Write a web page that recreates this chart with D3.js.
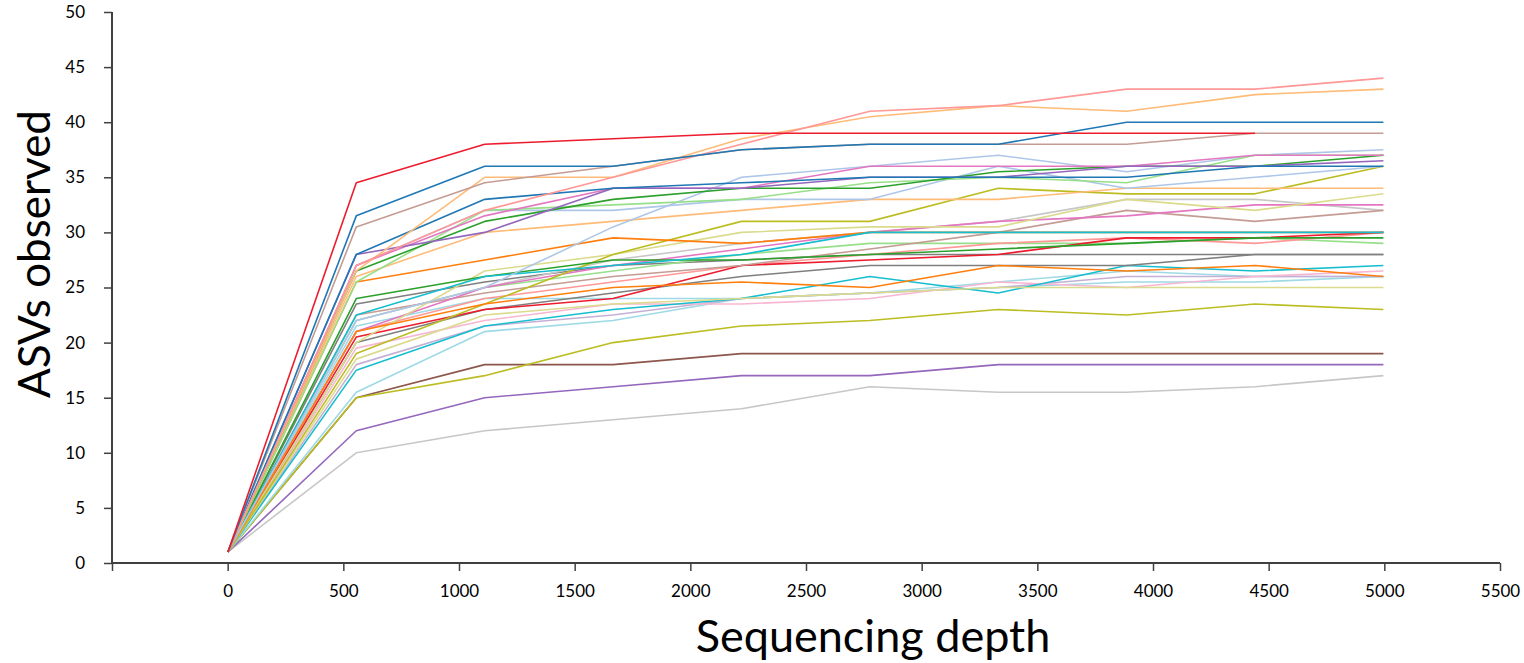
<!DOCTYPE html>
<html>
<head>
<meta charset="utf-8">
<script src="https://cdn.jsdelivr.net/npm/d3@7"></script>
<style>
  html, body { margin: 0; padding: 0; background: #ffffff; }
  svg { display: block; }
  text { font-family: Lato, "Open Sans", sans-serif; fill: #000; }
</style>
</head>
<body>
<svg id="chart" width="1524" height="663"></svg>
<script>
// ---------- DATA ----------
const depths = [1, 556, 1111, 1666, 2221, 2776, 3331, 3886, 4441, 4996];
const xTickValues = [-500, 0, 500, 1000, 1500, 2000, 2500, 3000, 3500, 4000, 4500, 5000, 5500];
const yTickValues = [0, 5, 10, 15, 20, 25, 30, 35, 40, 45, 50];
const xTitle = "Sequencing depth";
const yTitle = "ASVs observed";

const redA        = [1, 34.5, 38, 38.5, 39, 39, 39, 39, 39];
const blueA       = [1, 31.5, 36, 36, 37.5, 38, 38, 40, 40, 40];
const rosyA       = [1, 30.5, 34.5, 36, 37.5, 38, 38, 38, 39, 39];
const salmonA     = [1, 27, 32, 35, 38, 41, 41.5, 43, 43, 44];
const lorangeA    = [1, 26.5, 35, 35, 38.5, 40.5, 41.5, 41, 42.5, 43];
const blueB       = [1, 28, 33, 34, 34.5, 35, 35, 35, 36, 36];
const purpleA     = [1, 28, 30, 34, 34, 35, 35, 36, 36, 36.5];
const pinkA       = [1, 27, 31.5, 34, 34, 36, 36, 36, 37, 37];
const greenA      = [1, 26.5, 31, 33, 34, 34, 35.5, 36, 36, 37];
const lgreenA     = [1, 25.5, 32, 32.5, 33, 34.5, 35, 34.5, 37, 37];
const lblueA      = [1, 22, 25, 30.5, 35, 36, 37, 35.5, 37, 37.5];
const lblueB      = [1, 27, 32, 32, 33, 33, 36, 34, 35, 36];
const lorangeB    = [1, 26, 30, 31, 32, 33, 33, 34, 34, 34];
const orangeA     = [1, 25.5, 27.5, 29.5, 29, 30, 30, 30, 30, 30];
const orangeB     = [1, 21, 23.5, 25, 25.5, 25, 27, 26.5, 27, 26];
const cyanA       = [1, 22.5, 26, 27, 28, 30, 30, 30, 30, 30];
const greenB      = [1, 24, 26, 27.5, 27.5, 28, 28.5, 29, 29.5, 29.5];
const oliveA      = [1, 19, 23.5, 28, 31, 31, 34, 33.5, 33.5, 36];
const lolivaA     = [1, 20, 26.5, 28, 30, 30.5, 30.5, 33, 32, 33.5];
const lolivaB     = [1, 18.5, 22.5, 23.5, 24, 24.5, 25, 25, 25, 25];
const pinkB       = [1, 21, 25, 27, 28.5, 30, 31, 31.5, 32.5, 32.5];
const rosyB       = [1, 22.5, 24.5, 26, 27, 28.5, 30, 32, 31, 32];
const silverA     = [1, 22, 25, 27.5, 29, 30, 31, 33, 33, 32];
const redB        = [1, 20.5, 23, 24, 27, 27.5, 28, 29.5, 29.5, 30];
const salmonB     = [1, 21, 24, 25.5, 27, 28, 29, 29.5, 29, 30];
const lgreenB     = [1, 22, 25, 26.5, 28, 29, 29, 29, 29.5, 29];
const grayA       = [1, 23.5, 25.5, 27, 27.5, 28, 28, 28, 28, 28];
const grayB       = [1, 20, 23, 24.5, 26, 27, 27, 27, 28, 28];
const cyanB       = [1, 17.5, 21.5, 23, 24, 26, 24.5, 27, 26.5, 27];
const lpinkA      = [1, 19.5, 22, 23.5, 23.5, 24, 25.5, 25, 26, 26.5];
const lavenderA   = [1, 18, 21.5, 22.5, 24, 24.5, 25, 26, 26, 26];
const lcyanA      = [1, 15.5, 21, 22, 24, 24.5, 25, 25.5, 25.5, 26];
const lcyanB      = [1, 21.5, 24, 24, 24, 24.5, 25.5, 26.5, 26, 26];
const oliveB      = [1, 15, 17, 20, 21.5, 22, 23, 22.5, 23.5, 23];
const brownA      = [1, 15, 18, 18, 19, 19, 19, 19, 19, 19];
const purpleB     = [1, 12, 15, 16, 17, 17, 18, 18, 18, 18];
const silverB     = [1, 10, 12, 13, 14, 16, 15.5, 15.5, 16, 17];

const seriesValues = [
  silverB, purpleB, brownA, oliveB, lcyanA, lcyanB, lavenderA, lpinkA, cyanB,
  grayB, grayA, lgreenB, salmonB, redB, silverA, rosyB, pinkB, lolivaB, lolivaA,
  oliveA, greenB, orangeA, cyanA, orangeB, lorangeB, lblueB, lblueA, lgreenA,
  greenA, pinkA, purpleA, blueB, lorangeA, salmonA, rosyA, blueA, redA
];
const seriesColors = [
  "#c7c7c7", "#9467bd", "#8c564b", "#bcbd22", "#9edae5", "#9edae5", "#c5b0d5", "#f7b6d2", "#17becf",
  "#7f7f7f", "#7f7f7f", "#98df8a", "#ff9896", "#ec1c2e", "#c7c7c7", "#c49c94", "#e377c2", "#dbdb8d", "#dbdb8d",
  "#bcbd22", "#2ca02c", "#ff7f0e", "#17becf", "#ff7f0e", "#ffbb78", "#aec7e8", "#aec7e8", "#98df8a",
  "#2ca02c", "#e377c2", "#9467bd", "#1f77b4", "#ffbb78", "#ff9896", "#c49c94", "#1f77b4", "#ec1c2e"
];

// ---------- CHART ----------
const svg = d3.select("#chart");
const x = d3.scaleLinear().domain([-500, 5500]).range([112, 1500]);
const y = d3.scaleLinear().domain([0, 50]).range([563, 12]);

const line = d3.line()
  .x((d, i) => x(depths[i]))
  .y(d => y(d));

svg.append("g")
  .selectAll("path")
  .data(seriesValues)
  .join("path")
  .attr("d", d => line(d))
  .attr("fill", "none")
  .attr("stroke", (d, i) => seriesColors[i])
  .attr("stroke-width", 1.6)
  .attr("stroke-linejoin", "round");

// axes
const axisColor = "#404040";
const xAxis = svg.append("g")
  .attr("transform", `translate(0,${y(0)})`)
  .call(d3.axisBottom(x).tickValues(xTickValues).tickSize(8).tickPadding(14)
    .tickFormat(d => d < 0 ? "" : String(d)));
const yAxis = svg.append("g")
  .attr("transform", `translate(${x(-500)},0)`)
  .call(d3.axisLeft(y).tickValues(yTickValues).tickSize(8).tickPadding(19)
    .tickFormat(d => String(d)));

[xAxis, yAxis].forEach(g => {
  g.select(".domain").attr("stroke", axisColor).attr("stroke-width", 2);
  g.selectAll(".tick line").attr("stroke", axisColor).attr("stroke-width", 1.5);
  g.selectAll(".tick text").attr("font-size", 17).attr("font-family", "Lato, sans-serif").attr("fill", "#000");
});
yAxis.select(".domain").attr("d", `M0,${y(50)}V${y(0)}`);
xAxis.select(".domain").attr("d", `M${x(-500)},0H${x(5500)}`);

svg.append("text")
  .attr("x", 873)
  .attr("y", 652)
  .attr("text-anchor", "middle")
  .attr("font-size", 45)
  .text(xTitle);

svg.append("text")
  .attr("transform", `translate(50,254) rotate(-90)`)
  .attr("text-anchor", "middle")
  .attr("font-size", 44)
  .text(yTitle);
</script>
</body>
</html>
